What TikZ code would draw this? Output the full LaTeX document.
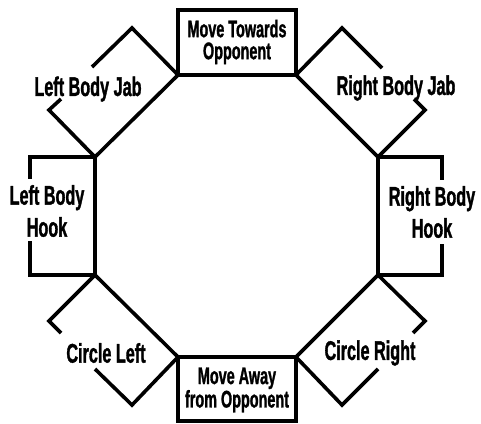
\documentclass[tikz,border=0pt]{standalone}
\usepackage{fontspec}
\setmainfont{Liberation Sans}[FakeStretch=0.6, FakeBold=1.2]
\usetikzlibrary{positioning, calc}

\begin{document}
\begin{tikzpicture}[
    x=1pt, y=-1pt,
    ring/.style={draw, line width=3.6pt, line join=miter, line cap=butt},
    move_label/.style={font=\fontsize{24}{22}\selectfont\bfseries, align=center, inner sep=0pt},
    side_label/.style={font=\fontsize{27}{32}\selectfont\bfseries, align=center, inner sep=0pt}
]
\useasboundingbox (0,0) rectangle (481,423);

% octagon corners
\coordinate (tl) at (178,75);
\coordinate (tr) at (296,75);
\coordinate (rt) at (378,157);
\coordinate (rb) at (378,275);
\coordinate (br) at (296,357);
\coordinate (bl) at (178,357);
\coordinate (lb) at (95,275);
\coordinate (lt) at (95,157);

\draw[ring] (tl) -- (tr) -- (rt) -- (rb) -- (br) -- (bl) -- (lb) -- (lt) -- cycle;

% front and back boxes
\draw[ring] (tl) -- (178,10) -- (296,10) -- (tr);
\draw[ring] (bl) -- (178,421) -- (296,421) -- (br);

% body jabs
\draw[ring] (tl) -- (132,28) -- (92,67);
\draw[ring] (61,99) -- (49,110) -- (lt);
\draw[ring] (tr) -- (342,28) -- (382,68);
\draw[ring] (414,99) -- (425,110) -- (rt);

% body hooks
\draw[ring] (lt) -- (30,157) -- (30,179);
\draw[ring] (30,241) -- (30,275) -- (lb);
\draw[ring] (rt) -- (442,157) -- (442,180);
\draw[ring] (442,244) -- (442,275) -- (rb);

% circling
\draw[ring] (lb) -- (49,321) -- (61,333);
\draw[ring] (95,369) -- (132,405) -- (bl);
\draw[ring] (rb) -- (425,321) -- (413,333);
\draw[ring] (378,369) -- (342,405) -- (br);

\node[move_label] (towards) at (237,42) {Move Towards\\Opponent};
\node[move_label] (away) at (237,390) {Move Away\\from Opponent};
\node[side_label] (ljab) at (88,89) {Left Body Jab};
\node[side_label] (rjab) at (396,88) {Right Body Jab};
\node[side_label] (lhook) at (47,211) {Left Body\\Hook};
\node[side_label] (rhook) at (432,212) {Right Body\\Hook};
\node[side_label] (cleft) at (106,353) {Circle Left};
\node[side_label] (cright) at (370,353) {Circle Right};
\end{tikzpicture}
\end{document}
